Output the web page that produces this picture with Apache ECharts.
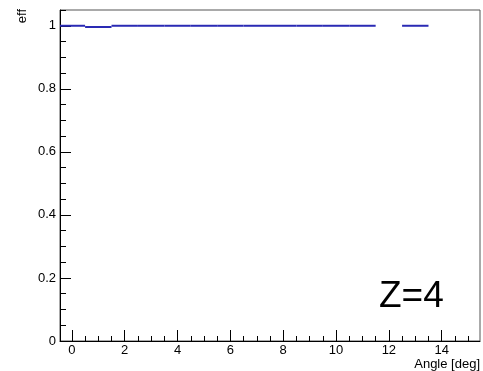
<!DOCTYPE html>
<html>
<head>
<meta charset="utf-8">
<script src="https://cdn.jsdelivr.net/npm/echarts@6/dist/echarts.min.js"></script>
<style>
  html, body { margin: 0; padding: 0; background: #fff; }
  #chart { width: 483px; height: 371px; }
</style>
</head>
<body>
<div id="chart"></div>
<script>
// Efficiency per angular bin (bin width 1 deg, centred on integer angles)
const binCenters = [0, 1, 2, 3, 4, 5, 6, 7, 8, 9, 10, 11, 13];
const effValues  = [1, 0.996, 1, 1, 1, 1, 1, 1, 1, 1, 1, 1, 1];
const binWidth = 1;

// Axis ticks
const xMajorTicks = [0, 2, 4, 6, 8, 10, 12, 14];
const xMinorTicks = [0.5, 1, 1.5, 2.5, 3, 3.5, 4.5, 5, 5.5, 6.5, 7, 7.5, 8.5, 9, 9.5,
                     10.5, 11, 11.5, 12.5, 13, 13.5, 14.5, 15];
const yMajorTicks = [0, 0.2, 0.4, 0.6, 0.8, 1];
const yMinorTicks = [0.05, 0.1, 0.15, 0.25, 0.3, 0.35, 0.45, 0.5, 0.55, 0.65, 0.7, 0.75,
                     0.85, 0.9, 0.95, 1.05];

const FONT = '"Liberation Sans", Arial, Helvetica, sans-serif';
const chart = echarts.init(document.getElementById('chart'), null, { renderer: 'canvas' });

const xRange = { min: -0.45, max: 15.45 };
const yRange = { min: 0, max: 1.05 };

chart.setOption({
  animation: false,
  grid: {
    left: 60, right: 3, top: 10, bottom: 30,
    show: true, borderColor: '#555', borderWidth: 1, backgroundColor: 'transparent'
  },
  xAxis: [
    {
      type: 'value', position: 'bottom', min: xRange.min, max: xRange.max,
      axisLine: { show: true, onZero: false, lineStyle: { color: '#000', width: 1 } },
      axisTick: { show: true, inside: true, length: 11, customValues: xMajorTicks, lineStyle: { color: '#000' } },
      axisLabel: { show: true, customValues: xMajorTicks, color: '#000', fontFamily: FONT, fontSize: 13, margin: 3 },
      splitLine: { show: false }
    },
    {
      type: 'value', position: 'bottom', min: xRange.min, max: xRange.max,
      axisLine: { show: false, onZero: false },
      axisTick: { show: true, inside: true, length: 5, customValues: xMinorTicks, lineStyle: { color: '#000' } },
      axisLabel: { show: false },
      splitLine: { show: false }
    }
  ],
  yAxis: [
    {
      type: 'value', position: 'left', min: yRange.min, max: yRange.max,
      axisLine: { show: true, onZero: false, lineStyle: { color: '#000', width: 1 } },
      axisTick: { show: true, inside: true, length: 11, customValues: yMajorTicks, lineStyle: { color: '#000' } },
      axisLabel: { show: true, customValues: yMajorTicks, color: '#000', fontFamily: FONT, fontSize: 13, margin: 4 },
      splitLine: { show: false }
    },
    {
      type: 'value', position: 'left', min: yRange.min, max: yRange.max,
      axisLine: { show: false, onZero: false },
      axisTick: { show: true, inside: true, length: 6, customValues: yMinorTicks, lineStyle: { color: '#000' } },
      axisLabel: { show: false },
      splitLine: { show: false }
    }
  ],
  series: [
    {
      type: 'custom',
      xAxisIndex: 0, yAxisIndex: 0,
      clip: true,
      data: binCenters.map((c, i) => [c, effValues[i]]),
      renderItem: function (params, api) {
        const c = api.value(0), v = api.value(1);
        const p0 = api.coord([c - binWidth / 2, v]);
        const p1 = api.coord([c + binWidth / 2, v]);
        return {
          type: 'line',
          shape: { x1: p0[0], y1: p0[1], x2: p1[0], y2: p1[1] },
          style: { stroke: '#2a2ab4', lineWidth: 2 }
        };
      }
    }
  ],
  graphic: [
    {
      type: 'text', x: 22, y: 9, rotation: Math.PI / 2,
      style: { text: 'eff', font: '13px ' + FONT, fill: '#000', align: 'right', verticalAlign: 'middle' }
    },
    {
      type: 'text', x: 480, y: 364,
      style: { text: 'Angle [deg]', font: '13px ' + FONT, fill: '#000', align: 'right', verticalAlign: 'middle' }
    },
    {
      type: 'text', x: 379, y: 297,
      style: { text: 'Z=4', font: '37px ' + FONT, fill: '#000', align: 'left', verticalAlign: 'middle' }
    }
  ]
});
</script>
</body>
</html>
